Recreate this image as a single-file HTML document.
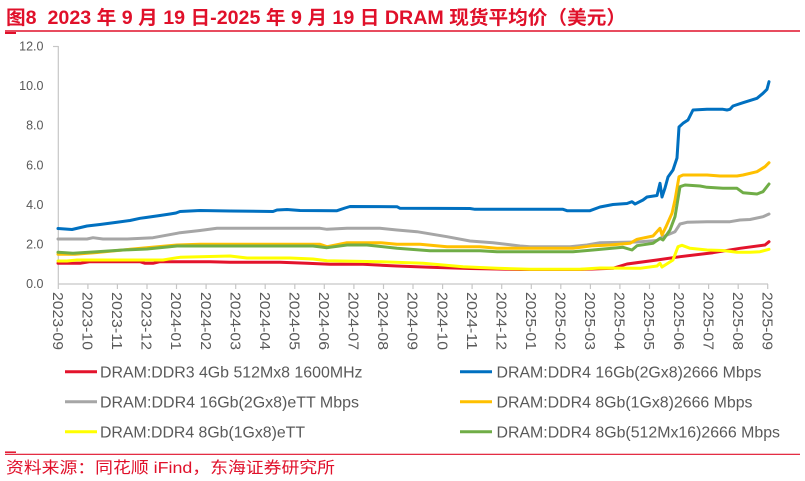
<!DOCTYPE html>
<html><head><meta charset="utf-8"><style>
html,body{margin:0;padding:0;background:#fff;}
svg{display:block;}
text{font-family:"Liberation Sans","Noto Sans CJK SC",sans-serif;}
</style></head><body>
<svg width="805" height="481" viewBox="0 0 805 481" xmlns="http://www.w3.org/2000/svg">
<rect width="805" height="481" fill="#fff"/>
<!-- Title -->
<text x="6" y="24" font-size="19" font-weight="bold" fill="#e0102a" style="white-space:pre" textLength="620" lengthAdjust="spacingAndGlyphs">图8  2023 年 9 月 19 日-2025 年 9 月 19 日 DRAM 现货平均价（美元）</text>
<line x1="5" y1="31" x2="800" y2="31" stroke="#e0102a" stroke-width="1.5"/>
<line x1="5" y1="33" x2="16" y2="33" stroke="#e0102a" stroke-width="2"/>

<!-- Y axis labels -->
<g font-size="12.5" fill="#595959" text-anchor="end">
<text x="43.5" y="50.5">12.0</text>
<text x="43.5" y="90">10.0</text>
<text x="43.5" y="129.7">8.0</text>
<text x="43.5" y="169.3">6.0</text>
<text x="43.5" y="208.9">4.0</text>
<text x="43.5" y="248.5">2.0</text>
<text x="43.5" y="288.2">0.0</text>
</g>
<!-- axes -->
<line x1="58.3" y1="46" x2="58.3" y2="284" stroke="#c6c6c6" stroke-width="1.2"/>
<line x1="53" y1="46.5" x2="58.3" y2="46.5" stroke="#c6c6c6" stroke-width="1.2"/>
<line x1="58.3" y1="284" x2="768" y2="284" stroke="#c6c6c6" stroke-width="1.2"/>
<g stroke="#c6c6c6" stroke-width="1.2">
<line x1="58.3" y1="284" x2="58.3" y2="289"/><line x1="87.9" y1="284" x2="87.9" y2="289"/><line x1="117.4" y1="284" x2="117.4" y2="289"/><line x1="147" y1="284" x2="147" y2="289"/><line x1="176.5" y1="284" x2="176.5" y2="289"/><line x1="206.1" y1="284" x2="206.1" y2="289"/><line x1="235.7" y1="284" x2="235.7" y2="289"/><line x1="265.2" y1="284" x2="265.2" y2="289"/><line x1="294.8" y1="284" x2="294.8" y2="289"/><line x1="324.3" y1="284" x2="324.3" y2="289"/><line x1="353.9" y1="284" x2="353.9" y2="289"/><line x1="383.5" y1="284" x2="383.5" y2="289"/><line x1="413" y1="284" x2="413" y2="289"/><line x1="442.6" y1="284" x2="442.6" y2="289"/><line x1="472.1" y1="284" x2="472.1" y2="289"/><line x1="501.7" y1="284" x2="501.7" y2="289"/><line x1="531.3" y1="284" x2="531.3" y2="289"/><line x1="560.8" y1="284" x2="560.8" y2="289"/><line x1="590.4" y1="284" x2="590.4" y2="289"/><line x1="619.9" y1="284" x2="619.9" y2="289"/><line x1="649.5" y1="284" x2="649.5" y2="289"/><line x1="679.1" y1="284" x2="679.1" y2="289"/><line x1="708.6" y1="284" x2="708.6" y2="289"/><line x1="738.2" y1="284" x2="738.2" y2="289"/><line x1="767.7" y1="284" x2="767.7" y2="289"/>
</g>
<!-- X labels (rotated 90deg clockwise) -->
<g font-size="15" fill="#595959">
<text transform="translate(53,292) rotate(90)" textLength="58" lengthAdjust="spacingAndGlyphs">2023-09</text>
<text transform="translate(82.6,292) rotate(90)" textLength="58" lengthAdjust="spacingAndGlyphs">2023-10</text>
<text transform="translate(112.1,292) rotate(90)" textLength="58" lengthAdjust="spacingAndGlyphs">2023-11</text>
<text transform="translate(141.7,292) rotate(90)" textLength="58" lengthAdjust="spacingAndGlyphs">2023-12</text>
<text transform="translate(171.2,292) rotate(90)" textLength="58" lengthAdjust="spacingAndGlyphs">2024-01</text>
<text transform="translate(200.8,292) rotate(90)" textLength="58" lengthAdjust="spacingAndGlyphs">2024-02</text>
<text transform="translate(230.4,292) rotate(90)" textLength="58" lengthAdjust="spacingAndGlyphs">2024-03</text>
<text transform="translate(259.9,292) rotate(90)" textLength="58" lengthAdjust="spacingAndGlyphs">2024-04</text>
<text transform="translate(289.5,292) rotate(90)" textLength="58" lengthAdjust="spacingAndGlyphs">2024-05</text>
<text transform="translate(319,292) rotate(90)" textLength="58" lengthAdjust="spacingAndGlyphs">2024-06</text>
<text transform="translate(348.6,292) rotate(90)" textLength="58" lengthAdjust="spacingAndGlyphs">2024-07</text>
<text transform="translate(378.2,292) rotate(90)" textLength="58" lengthAdjust="spacingAndGlyphs">2024-08</text>
<text transform="translate(407.7,292) rotate(90)" textLength="58" lengthAdjust="spacingAndGlyphs">2024-09</text>
<text transform="translate(437.3,292) rotate(90)" textLength="58" lengthAdjust="spacingAndGlyphs">2024-10</text>
<text transform="translate(466.8,292) rotate(90)" textLength="58" lengthAdjust="spacingAndGlyphs">2024-11</text>
<text transform="translate(496.4,292) rotate(90)" textLength="58" lengthAdjust="spacingAndGlyphs">2024-12</text>
<text transform="translate(526,292) rotate(90)" textLength="58" lengthAdjust="spacingAndGlyphs">2025-01</text>
<text transform="translate(555.5,292) rotate(90)" textLength="58" lengthAdjust="spacingAndGlyphs">2025-02</text>
<text transform="translate(585.1,292) rotate(90)" textLength="58" lengthAdjust="spacingAndGlyphs">2025-03</text>
<text transform="translate(614.6,292) rotate(90)" textLength="58" lengthAdjust="spacingAndGlyphs">2025-04</text>
<text transform="translate(644.2,292) rotate(90)" textLength="58" lengthAdjust="spacingAndGlyphs">2025-05</text>
<text transform="translate(673.8,292) rotate(90)" textLength="58" lengthAdjust="spacingAndGlyphs">2025-06</text>
<text transform="translate(703.3,292) rotate(90)" textLength="58" lengthAdjust="spacingAndGlyphs">2025-07</text>
<text transform="translate(732.9,292) rotate(90)" textLength="58" lengthAdjust="spacingAndGlyphs">2025-08</text>
<text transform="translate(762.4,292) rotate(90)" textLength="58" lengthAdjust="spacingAndGlyphs">2025-09</text>
</g>

<!-- Series -->
<g fill="none" stroke-width="3" stroke-linejoin="round" stroke-linecap="round">
<polyline stroke="#e3132c" points="58,263.3 80,263.3 90,261.7 140,261.7 145,263.3 153,263.3 160,261.7 210,261.7 230,262.3 280,262.3 307,263.3 330,264.3 363,264.3 397,266 430,267.3 470,268.5 520,269.5 580,269.5 613,268.3 627,264 657,260 680,256.7 713,252.7 740,248.3 765,245 769,241.7"/>
<polyline stroke="#0070c0" points="58,228.5 72,229.5 87,226 100,224.5 117,222.3 130,220.5 140,218.3 146,217.5 160,215.5 170,214 176,213 180,211.5 200,210.5 230,211 273,211.5 277,210 287,209.5 300,210.5 337,210.7 345,208 350,206.5 397,206.7 400,208.3 470,208.5 475,209.3 563,209.3 567,210.7 590,210.7 600,207 613,204.5 627,203.5 632,201.7 635,204 643,200 647,197 657,195.5 660,183.3 662,197 665,188 668,177 673,170 677,158 679,127 683,123.3 688,120 693,110 707,109.3 723,109.3 727,110 730,109.3 733,106 743,102.7 757,98.3 763,93.3 767,89.3 769,81.7"/>
<polyline stroke="#a6a6a6" points="58,239 87,239 93,237.7 103,239 127,239 153,237.7 177,233.3 180,232.7 200,230.5 217,228.3 320,228.3 327,229.3 347,228.3 380,228.3 397,230 417,231.7 447,236.7 470,241 493,242.7 520,246 530,246.7 570,246.7 587,245 600,242.7 637,242 657,240.5 663,236.7 675,231.7 680,224 687,222.3 707,221.7 730,221.7 740,220 750,219.5 763,216.7 769,214"/>
<polyline stroke="#ffc000" points="58,254.3 75,254.3 97,252.5 130,249.3 177,245 200,244.3 320,244.3 327,246.7 347,242.7 380,242.7 397,244.3 420,244.3 447,246.7 480,246.7 497,248.3 573,248.3 593,245.7 600,245.5 610,245 630,243.3 637,239.3 653,236 660,228.3 662,235 666,226.7 672,213.3 675,200 679,176.7 683,175 707,175 720,176 737,176 743,175 757,171.7 765,166.7 769,162.7"/>
<polyline stroke="#ffff00" points="58,261 67,261 77,260 163,260 177,257.7 180,257.3 230,256 247,258 290,258 313,259 327,260.7 380,261.7 423,263.3 463,266.7 497,268.3 530,269.3 580,269.3 600,268 640,268.3 657,266 660,263.3 662,267 673,260 678,246.7 682,245.3 690,248.3 707,250 723,250.5 737,252.3 750,252.3 760,251.7 769,249.3"/>
<polyline stroke="#70ad47" points="58,252.3 73,253.3 97,251.7 123,250 147,249 177,246 180,246 313,246 327,247.7 347,245 367,245 397,248.3 430,250.7 480,250.7 497,251.7 567,251.7 573,251.7 593,250 623,247.3 632,250 637,245.7 653,243.3 660,238.3 663,240 670,230 675,216.7 680,186.7 685,185 700,186 707,187.3 723,188.3 737,188.3 743,192.7 757,194 763,191.7 769,184"/>
</g>

<!-- Legend -->
<g stroke-width="3">
<line x1="65" y1="371.7" x2="97" y2="371.7" stroke="#e3132c"/>
<line x1="65" y1="401.7" x2="97" y2="401.7" stroke="#a6a6a6"/>
<line x1="65" y1="431.7" x2="97" y2="431.7" stroke="#ffff00"/>
<line x1="460" y1="371.7" x2="492" y2="371.7" stroke="#0070c0"/>
<line x1="460" y1="401.7" x2="492" y2="401.7" stroke="#ffc000"/>
<line x1="460" y1="431.7" x2="492" y2="431.7" stroke="#70ad47"/>
</g>
<g font-size="16" fill="#595959">
<text x="100" y="377.3" textLength="262.5" lengthAdjust="spacingAndGlyphs">DRAM:DDR3 4Gb 512Mx8 1600MHz</text>
<text x="100" y="407.3" textLength="259" lengthAdjust="spacingAndGlyphs">DRAM:DDR4 16Gb(2Gx8)eTT Mbps</text>
<text x="100" y="437.3" textLength="205" lengthAdjust="spacingAndGlyphs">DRAM:DDR4 8Gb(1Gx8)eTT</text>
<text x="496.5" y="377.3" textLength="265" lengthAdjust="spacingAndGlyphs">DRAM:DDR4 16Gb(2Gx8)2666 Mbps</text>
<text x="496.5" y="407.3" textLength="256" lengthAdjust="spacingAndGlyphs">DRAM:DDR4 8Gb(1Gx8)2666 Mbps</text>
<text x="496.5" y="437.3" textLength="283.5" lengthAdjust="spacingAndGlyphs">DRAM:DDR4 8Gb(512Mx16)2666 Mbps</text>
</g>

<!-- Footer -->
<line x1="5" y1="452.2" x2="16" y2="452.2" stroke="#e0102a" stroke-width="1.5"/>
<line x1="5" y1="454.3" x2="800" y2="454.3" stroke="#e0102a" stroke-width="1.2"/>
<text x="6" y="473" font-size="16" fill="#e0102a" textLength="329" lengthAdjust="spacingAndGlyphs">资料来源：同花顺 iFind，东海证券研究所</text>
</svg>
</body></html>
